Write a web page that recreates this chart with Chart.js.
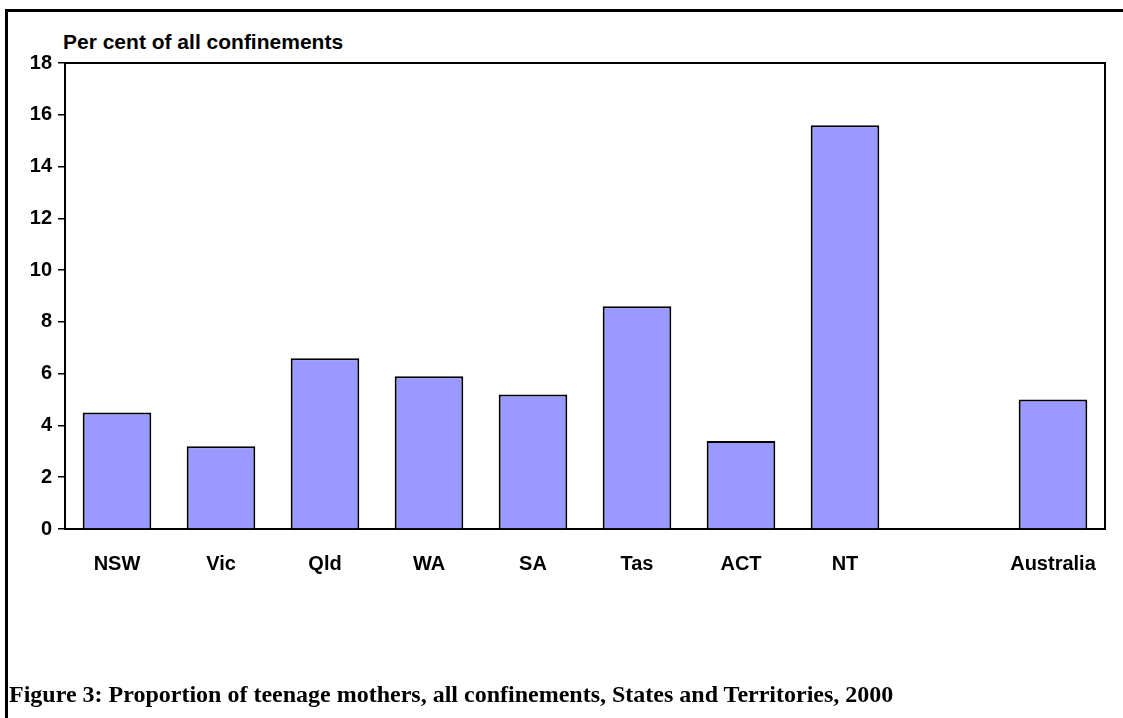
<!DOCTYPE html>
<html>
<head>
<meta charset="utf-8">
<script src="https://cdn.jsdelivr.net/npm/chart.js@4"></script>
<style>
  body { margin: 0; background: #fff; overflow: hidden; }
  #wrap { position: relative; width: 1123px; height: 718px; overflow: hidden; }
  #frame { position: absolute; left: 5px; top: 9px; width: 1300px; height: 900px;
           border-left: 3px solid #000; border-top: 3px solid #000; }
  #ytitle { position: absolute; left: 63px; top: 31px; font: bold 21px "Liberation Sans", Arial, sans-serif;
            line-height: 21px; color: #000; white-space: nowrap; }
  #caption { position: absolute; left: 9px; top: 681px; font: bold 24px "Liberation Serif", serif;
             line-height: 26px; color: #000; white-space: nowrap; }
  canvas { position: absolute; left: 0; top: 0; }
</style>
</head>
<body>
<div id="wrap">
  <div id="frame"></div>
  <div id="ytitle">Per cent of all confinements</div>
  <canvas id="myChart" width="1123" height="718"></canvas>
  <div id="caption">Figure 3: Proportion of teenage mothers, all confinements, States and Territories, 2000</div>
</div>
<script>
const states = ['NSW', 'Vic', 'Qld', 'WA', 'SA', 'Tas', 'ACT', 'NT', '', 'Australia'];
const teenPercent = [4.5, 3.2, 6.6, 5.9, 5.2, 8.6, 3.4, 15.6, null, 5.0];
const yTicks = [0, 2, 4, 6, 8, 10, 12, 14, 16, 18];

const boxPlugin = {
    id: 'box',
    afterDraw(chart) {
        const a = chart.chartArea;
        const ctx = chart.ctx;
        ctx.save();
        ctx.strokeStyle = '#000';
        ctx.lineWidth = 2;
        ctx.beginPath();
        ctx.moveTo(a.left, a.top);
        ctx.lineTo(a.right, a.top);
        ctx.lineTo(a.right, a.bottom);
        ctx.stroke();
        ctx.restore();
    }
};

const tickFont = { family: '"Liberation Sans", Arial, sans-serif', size: 20, weight: 'bold' };

new Chart(document.getElementById('myChart'), {
    type: 'bar',
    data: {
        labels: states,
        datasets: [{
            data: teenPercent,
            backgroundColor: '#9999ff',
            borderColor: '#000',
            borderWidth: 2,
            barPercentage: 0.66,
            categoryPercentage: 1
        }]
    },
    options: {
        responsive: false,
        animation: false,
        layout: { padding: { left: 0, right: 18, top: 63, bottom: 129 } },
        plugins: { legend: { display: false }, tooltip: { enabled: false } },
        scales: {
            x: {
                grid: { display: false },
                border: { color: '#000', width: 2 },
                ticks: { color: '#000', font: tickFont, padding: 15, maxRotation: 0 },
                afterFit: s => { s.height = 60; }
            },
            y: {
                min: 0,
                max: 18,
                afterBuildTicks: s => { s.ticks = yTicks.map(v => ({ value: v })); },
                grid: { drawOnChartArea: false, color: '#000', lineWidth: 1.5, tickLength: 7 },
                border: { color: '#000', width: 2 },
                ticks: { color: '#000', font: tickFont, padding: 6 },
                afterFit: s => { s.width = 65; }
            }
        }
    },
    plugins: [boxPlugin]
});
</script>
</body>
</html>
